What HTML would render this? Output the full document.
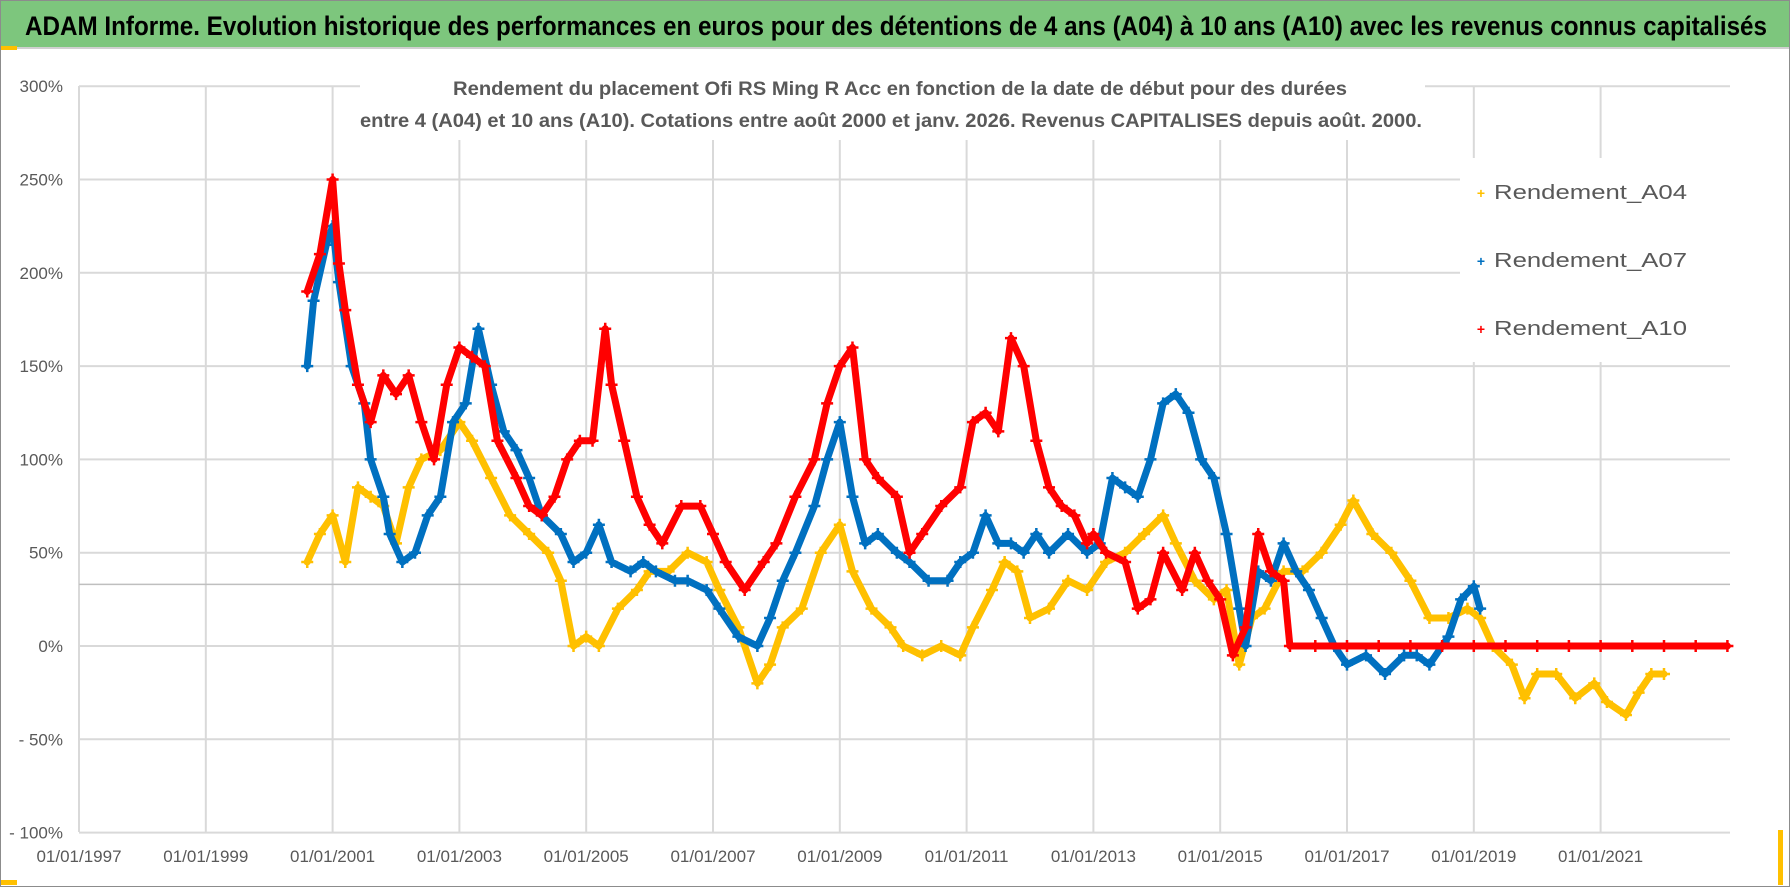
<!DOCTYPE html>
<html><head><meta charset="utf-8"><style>html,body{margin:0;padding:0;background:#fff}svg{display:block}</style></head>
<body>
<svg id="chart" xmlns="http://www.w3.org/2000/svg" width="1790" height="887" viewBox="0 0 1790 887" font-family="'Liberation Sans', sans-serif">
  <rect x="0.5" y="0.5" width="1789" height="886" fill="#fff" stroke="#8c8c8c"/>
  <rect x="1" y="1" width="1788" height="46" fill="#7DC67D"/>
  <line x1="1" y1="48" x2="1789" y2="48" stroke="#d0d0d0" stroke-width="2"/>
  <rect x="1" y="46" width="16" height="4" fill="#FFC000"/>
  <rect x="1" y="880" width="16" height="5" fill="#FFC000"/>
  <rect x="1778" y="830" width="5" height="55" fill="#FFC000"/>
  <text x="25" y="35" font-size="27" font-weight="bold" fill="#000" textLength="1742" lengthAdjust="spacingAndGlyphs">ADAM Informe. Evolution historique des performances en euros pour des détentions de 4 ans (A04) à 10 ans (A10) avec les revenus connus capitalisés</text>
  <g id="grid"></g>
  <g id="ylabels"></g>
  <g id="xlabels"></g>
  <g id="series"></g>
  <rect x="360" y="64" width="1065" height="76" fill="#fff"/>
  <text x="900" y="95" font-size="19" font-weight="bold" fill="#595959" text-anchor="middle" textLength="894" lengthAdjust="spacingAndGlyphs">Rendement du placement Ofi RS Ming R Acc en fonction de la date de début pour des durées</text>
  <text x="891" y="127" font-size="19" font-weight="bold" fill="#595959" text-anchor="middle" textLength="1062" lengthAdjust="spacingAndGlyphs">entre 4 (A04) et 10 ans (A10).  Cotations entre août 2000 et janv. 2026.  Revenus CAPITALISES depuis août. 2000.</text>
  <g>
    <rect x="1460" y="158" width="316" height="204" fill="#fff"/>
    <g>
      <text x="1481" y="198" font-size="14" fill="#FFC000" text-anchor="middle" font-weight="bold">+</text>
      <text x="1494" y="199" font-size="20" fill="#595959" textLength="193" lengthAdjust="spacingAndGlyphs">Rendement_A04</text>
    </g>
    <g>
      <text x="1481" y="266" font-size="14" fill="#0070C0" text-anchor="middle" font-weight="bold">+</text>
      <text x="1494" y="267" font-size="20" fill="#595959" textLength="193" lengthAdjust="spacingAndGlyphs">Rendement_A07</text>
    </g>
    <g>
      <text x="1481" y="334" font-size="14" fill="#FF0000" text-anchor="middle" font-weight="bold">+</text>
      <text x="1494" y="335" font-size="20" fill="#595959" textLength="193" lengthAdjust="spacingAndGlyphs">Rendement_A10</text>
    </g>
  </g>
</svg>
<script>
const yTicks = [300, 250, 200, 150, 100, 50, 0, -50, -100];
const yTickLabels = ["300%", "250%", "200%", "150%", "100%", "50%", "0%", "- 50%", "- 100%"];
const xTicks = [1997, 1999, 2001, 2003, 2005, 2007, 2009, 2011, 2013, 2015, 2017, 2019, 2021];
const xTickLabels = ["01/01/1997","01/01/1999","01/01/2001","01/01/2003","01/01/2005","01/01/2007","01/01/2009","01/01/2011","01/01/2013","01/01/2015","01/01/2017","01/01/2019","01/01/2021"];
const refLineValue = 33;

const a04Years = [2000.6,2000.8,2001.0,2001.2,2001.4,2001.6,2001.8,2002.0,2002.2,2002.4,2002.7,2003.0,2003.2,2003.5,2003.8,2004.1,2004.4,2004.6,2004.8,2005.0,2005.2,2005.5,2005.8,2006.0,2006.3,2006.6,2006.9,2007.1,2007.4,2007.7,2007.9,2008.1,2008.4,2008.7,2009.0,2009.2,2009.5,2009.8,2010.0,2010.3,2010.6,2010.9,2011.1,2011.4,2011.6,2011.8,2012.0,2012.3,2012.6,2012.9,2013.2,2013.5,2013.8,2014.1,2014.3,2014.6,2014.9,2015.1,2015.3,2015.5,2015.7,2016.0,2016.3,2016.6,2016.9,2017.1,2017.4,2017.7,2018.0,2018.3,2018.6,2018.9,2019.1,2019.3,2019.6,2019.8,2020.0,2020.3,2020.6,2020.9,2021.1,2021.4,2021.6,2021.8,2022.0];
const a04Values = [45,60,70,45,85,80,75,55,85,100,105,120,110,90,70,60,50,35,0,5,0,20,30,40,40,50,45,30,10,-20,-10,10,20,50,65,40,20,10,0,-5,0,-5,10,30,45,40,15,20,35,30,45,50,60,70,55,35,25,30,-10,15,20,40,40,50,65,78,60,50,35,15,15,20,15,0,-10,-28,-15,-15,-28,-20,-30,-37,-25,-15,-15];

const a07Years = [2000.6,2000.7,2000.9,2001.0,2001.1,2001.3,2001.5,2001.6,2001.8,2001.9,2002.1,2002.3,2002.5,2002.7,2002.9,2003.1,2003.3,2003.5,2003.7,2003.9,2004.1,2004.3,2004.6,2004.8,2005.0,2005.2,2005.4,2005.7,2005.9,2006.1,2006.4,2006.6,2006.9,2007.1,2007.4,2007.7,2007.9,2008.1,2008.3,2008.6,2008.8,2009.0,2009.2,2009.4,2009.6,2009.9,2010.1,2010.4,2010.7,2010.9,2011.1,2011.3,2011.5,2011.7,2011.9,2012.1,2012.3,2012.6,2012.9,2013.1,2013.3,2013.5,2013.7,2013.9,2014.1,2014.3,2014.5,2014.7,2014.9,2015.1,2015.3,2015.4,2015.6,2015.8,2016.0,2016.2,2016.4,2016.6,2016.8,2017.0,2017.3,2017.6,2017.9,2018.1,2018.3,2018.6,2018.8,2019.0,2019.1];
const a07Values = [150,185,215,225,195,150,130,100,80,60,45,50,70,80,120,130,170,140,115,105,90,70,60,45,50,65,45,40,45,40,35,35,30,20,5,0,15,35,50,75,100,120,80,55,60,50,45,35,35,45,50,70,55,55,50,60,50,60,50,55,90,85,80,100,130,135,125,100,90,60,20,0,40,35,55,40,30,15,0,-10,-5,-15,-5,-5,-10,5,25,32,20];

const a10Years = [2000.6,2000.8,2001.0,2001.1,2001.2,2001.4,2001.6,2001.8,2002.0,2002.2,2002.4,2002.6,2002.8,2003.0,2003.2,2003.4,2003.6,2003.9,2004.1,2004.3,2004.5,2004.7,2004.9,2005.1,2005.3,2005.4,2005.6,2005.8,2006.0,2006.2,2006.5,2006.8,2007.0,2007.2,2007.5,2007.8,2008.0,2008.3,2008.6,2008.8,2009.0,2009.2,2009.4,2009.6,2009.9,2010.1,2010.3,2010.6,2010.9,2011.1,2011.3,2011.5,2011.7,2011.9,2012.1,2012.3,2012.5,2012.7,2012.9,2013.0,2013.2,2013.5,2013.7,2013.9,2014.1,2014.4,2014.6,2014.8,2015.0,2015.2,2015.4,2015.6,2015.8,2016.0,2016.1,2016.5,2017.0,2017.5,2018.0,2018.5,2019.0,2019.5,2020.0,2020.5,2021.0,2021.5,2022.0,2022.5,2023.0];
const a10Values = [190,210,250,205,180,140,120,145,135,145,120,100,140,160,155,150,110,90,75,70,80,100,110,110,170,140,110,80,65,55,75,75,60,45,30,45,55,80,100,130,150,160,100,90,80,50,60,75,85,120,125,115,165,150,110,85,75,70,55,60,50,45,20,25,50,30,50,35,25,-5,10,60,40,35,0,0,0,0,0,0,0,0,0,0,0,0,0,0,0];

const X0 = 79, PX_PER_YEAR = 63.4, Y0 = 646, PX_PER_PCT = 93.3/50;
const PLOT_L = 79, PLOT_R = 1730, PLOT_T = 86, PLOT_B = 832;
function xScale(yr){ return X0 + (yr - 1997) * PX_PER_YEAR; }
function yScale(v){ return Y0 - v * PX_PER_PCT; }
const NS = "http://www.w3.org/2000/svg";
function mk(tag, attrs, parent){ const e = document.createElementNS(NS, tag); for (const k in attrs) e.setAttribute(k, attrs[k]); parent.appendChild(e); return e; }

const grid = document.getElementById('grid');
yTicks.forEach((v, i) => {
  const l = mk('line', {x1: PLOT_L, x2: PLOT_R, y1: yScale(v), y2: yScale(v), stroke: '#d9d9d9', 'stroke-width': 2}, grid);
  
  
  const t = mk('text', {x: 63, y: yScale(v) + 6, 'font-size': 17, fill: '#595959', 'text-anchor': 'end'}, document.getElementById('ylabels'));
  t.textContent = yTickLabels[i];
  
  
});
xTicks.forEach((yr, i) => {
  const l = mk('line', {x1: xScale(yr), x2: xScale(yr), y1: PLOT_T, y2: PLOT_B, stroke: '#d9d9d9', 'stroke-width': 2}, grid);
  
  
  const t = mk('text', {x: xScale(yr), y: 862, 'font-size': 17, fill: '#595959', 'text-anchor': 'middle'}, document.getElementById('xlabels'));
  t.textContent = xTickLabels[i];
  
  
});
const ref = mk('line', {x1: PLOT_L, x2: PLOT_R, y1: yScale(refLineValue), y2: yScale(refLineValue), stroke: '#bfbfbf', 'stroke-width': 1.5}, grid);



const seriesG = document.getElementById('series');
function drawSeries(name, years, values, color){
  const g = mk('g', {}, seriesG);
  
  
  const pts = years.map((y, i) => xScale(y).toFixed(1) + ',' + yScale(values[i]).toFixed(1)).join(' ');
  const pl = mk('polyline', {points: pts, fill: 'none', stroke: color, 'stroke-width': 7, 'stroke-linejoin': 'round', 'stroke-linecap': 'round'}, g);
  
  
  years.forEach((y, i) => {
    const cx = xScale(y), cy = yScale(values[i]);
    const p = mk('path', {d: `M${cx-6},${cy}H${cx+6}M${cx},${cy-6}V${cy+6}`, stroke: color, 'stroke-width': 2.5}, g);
    
    
  });
}
drawSeries('series-a04', a04Years, a04Values, '#FFC000');
drawSeries('series-a07', a07Years, a07Values, '#0070C0');
drawSeries('series-a10', a10Years, a10Values, '#FF0000');
</script>
</body></html>
